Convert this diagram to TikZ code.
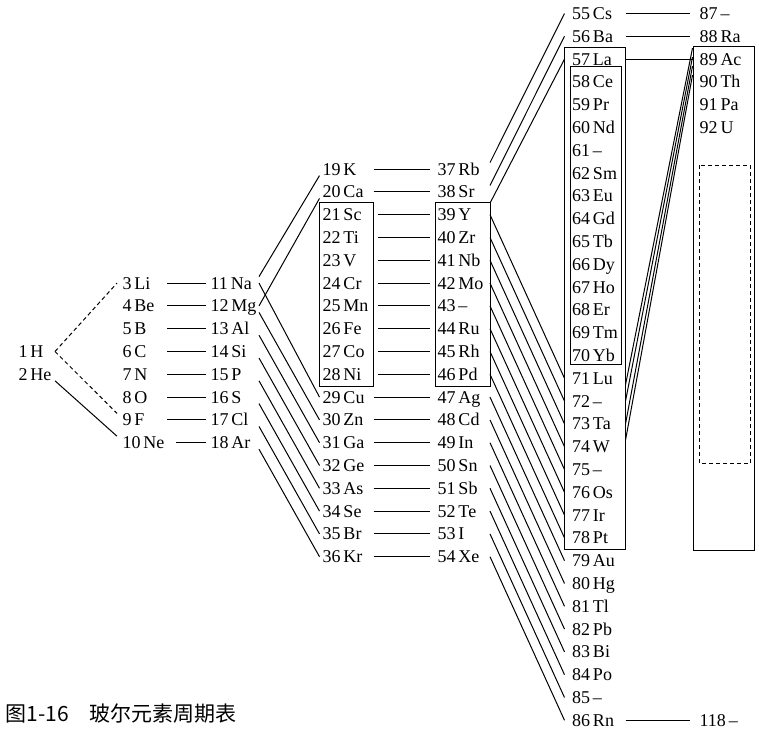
\documentclass[tikz,border=0pt]{standalone}
\usepackage{fontspec}
\setmainfont{Liberation Serif}
\newfontfamily\elfont{Liberation Serif}
\newfontfamily\cjk{Noto Sans CJK SC}
\usetikzlibrary{fit,calc}

\tikzset{
  el/.style={anchor=west, inner ysep=0pt, text height=6pt, text depth=0pt, align=left, font=\elfont\fontsize{9}{9}\selectfont},
  per1/.style={el, text width=18pt, inner xsep=0pt},
  per2/.style={el, text width=19.5pt, inner xsep=2.5pt},
  per3/.style={el, text width=23pt, inner xsep=1pt},
  per4/.style={el, text width=24pt, inner xsep=1.25pt},
  per5/.style={el, text width=25pt, inner xsep=1pt},
  per6/.style={el, text width=23pt, inner xsep=3.5pt},
  per7/.style={el, text width=24pt, inner xsep=3pt},
  grp/.style={draw, inner xsep=0pt, inner ysep=2.75pt},
  holes/.style={dash pattern=on 2pt off 1.5pt},
}

\begin{document}
\begin{tikzpicture}[x=0.5pt, y=-0.5pt, line width=0.5pt]
	\useasboundingbox (0,0) rectangle (759,741);

	% les colonnes
	\foreach \n/\s [count=\i from 15] in {1/H, 2/He}
		\node[per1] (e\n) at (18,{9.5+22.8*\i}) {\n\,\s};
	\foreach \n/\s [count=\i from 12] in {3/Li, 4/Be, 5/B, 6/C, 7/N, 8/O, 9/F, 10/Ne}
		\node[per2] (e\n) at (117,{9.5+22.8*\i}) {\n\,\s};
	\foreach \n/\s [count=\i from 12] in {11/Na, 12/Mg, 13/Al, 14/Si, 15/P, 16/S, 17/Cl, 18/Ar}
		\node[per3] (e\n) at (208,{9.5+22.8*\i}) {\n\,\s};
	\foreach \n/\s [count=\i from 7] in {19/K, 20/Ca, 21/Sc, 22/Ti, 23/V, 24/Cr, 25/Mn, 26/Fe, 27/Co,
		28/Ni, 29/Cu, 30/Zn, 31/Ga, 32/Ge, 33/As, 34/Se, 35/Br, 36/Kr}
		\node[per4] (e\n) at (319.5,{9.5+22.8*\i}) {\n\,\s};
	\foreach \n/\s [count=\i from 7] in {37/Rb, 38/Sr, 39/Y, 40/Zr, 41/Nb, 42/Mo, 43/–, 44/Ru, 45/Rh,
		46/Pd, 47/Ag, 48/Cd, 49/In, 50/Sn, 51/Sb, 52/Te, 53/I, 54/Xe}
		\node[per5] (e\n) at (435,{9.5+22.8*\i}) {\n\,\s};
	\foreach \n/\s [count=\i from 0] in {55/Cs, 56/Ba, 57/La, 58/Ce, 59/Pr, 60/Nd, 61/–, 62/Sm, 63/Eu,
		64/Gd, 65/Tb, 66/Dy, 67/Ho, 68/Er, 69/Tm, 70/Yb, 71/Lu, 72/–, 73/Ta, 74/W, 75/–, 76/Os,
		77/Ir, 78/Pt, 79/Au, 80/Hg, 81/Tl, 82/Pb, 83/Bi, 84/Po, 85/–, 86/Rn}
		\node[per6] (e\n) at (564.5,{13.5+22.8*\i}) {\n\,\s};
	\foreach \n/\s [count=\i from 0] in {87/–, 88/Ra, 89/Ac, 90/Th, 91/Pa, 92/U}
		\node[per7] (e\n) at (693,{13.5+22.8*\i}) {\n\,\s};
	\node[per7] (e118) at (693,{13.5+22.8*31}) {118\,–};

	% les cadres
	\node[grp, fit=(e21)(e28)] (b4) {};
	\node[grp, fit=(e39)(e46)] (b5) {};
	\node[grp, fit=(e57)(e78)] (b6) {};
	\draw ($(e58.north west)+(6,-9)$) rectangle ($(e70.south east)+(-4,2.5)$);
	\node[draw, inner sep=0pt, fit=(b6.north -| e89.west)(b6.south -| e89.east)] (b7) {};
	\draw[holes] (699.5,165) rectangle (750,463.5);

	% periode 1 -> 2
	\draw[holes] (e1.east) -- (e3.west);
	\draw[holes] (e1.east) -- (e9.north west);
	\draw (e2.south east) -- (e10.north west);

	% periode 2 -> 3
	\foreach \a in {3,...,9}{
		\pgfmathtruncatemacro\b{\a+8}
		\draw[shorten >=1pt] (e\a.east) -- (e\b.west);
	}
	\draw[shorten <=4.5pt, shorten >=1pt] (e10.east) -- (e18.west);

	% periode 3 -> 4
	\draw (e11.north east) -- (e19.south west);
	\draw (e12.east) -- (e20.south west);
	\draw (e11.east) -- (e29.west);
	\draw (e12.south east) -- (e30.west);
	\foreach \a in {13,...,18}{
		\pgfmathtruncatemacro\b{\a+18}
		\draw (e\a.south east) -- (e\b.west);
	}

	% periode 4 -> 5
	\foreach \a in {19,20,29,30,31,32,33,34,35,36}{
		\pgfmathtruncatemacro\b{\a+18}
		\draw[shorten >=2.5pt] (e\a.east) -- (e\b.west);
	}
	\foreach \a in {21,...,28}{
		\pgfmathtruncatemacro\b{\a+18}
		\draw[shorten <=2.25pt, shorten >=2.5pt] (e\a.east) -- (e\b.west);
	}

	% periode 5 -> 6
	\draw (e37.north east) -- (e55.west);
	\draw (e38.north east) -- (e56.west);
	\draw (b5.north east) -- (e57.west);
	\foreach \a in {39,...,54}{
		\pgfmathtruncatemacro\b{\a+32}
		\draw (e\a.east) -- (e\b.west);
	}

	% periode 6 -> 7
	\draw[shorten >=1.5pt] (e55.east) -- (e87.west);
	\draw[shorten >=1.5pt] (e56.east) -- (e88.west);
	\draw (e57.east) -- (e89.west);
	\draw[shorten >=1.5pt] (e86.east) -- (e118.west);
	\draw ($(b7.north west)+(0,2)$) -- (e71.south east);
	\draw ($(b7.north west)+(0,11)$) -- (e72.east);
	\draw ($(b7.north west)+(0,20)$) -- (e73.east);
	\draw ($(b7.north west)+(0,29)$) -- (e74.north east);

	\node[anchor=west, inner sep=0pt, font=\cjk\fontsize{10.5}{10.5}\selectfont] (cap) at (5,714) {图1-16\hspace{1em}玻尔元素周期表};
\end{tikzpicture}
\end{document}
